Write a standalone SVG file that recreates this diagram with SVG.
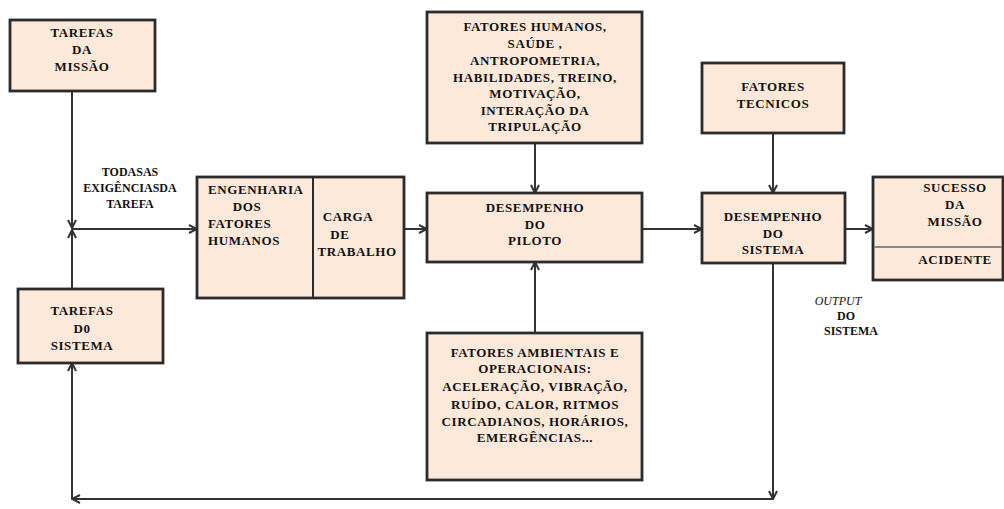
<svg xmlns="http://www.w3.org/2000/svg" width="1004" height="509" viewBox="0 0 1004 509">
<defs>
<marker id="arr" viewBox="0 0 10 10" refX="9" refY="5" markerWidth="10" markerHeight="10" markerUnits="userSpaceOnUse" orient="auto">
<path d="M1,1 L9,5 L1,9" fill="none" stroke="#333" stroke-width="2"/>
</marker>
<style>
.box{fill:#fde9da;stroke:#2b2b2b;stroke-width:2.8}
.t{font-family:"Liberation Serif","Times New Roman",serif;font-weight:bold;font-size:13px;fill:#111;text-anchor:middle;letter-spacing:0.6px}
.l{text-anchor:start}
.c{fill:none;stroke:#333;stroke-width:2;marker-end:url(#arr)}
</style>
</defs>
<rect width="1004" height="509" fill="#fff"/>

<g id="connectors">
<line class="c" x1="72" y1="91" x2="72" y2="228"/>
<line class="c" x1="72" y1="289" x2="72" y2="230"/>
<line class="c" x1="72" y1="229" x2="197" y2="229"/>
<line class="c" x1="404" y1="229" x2="427" y2="229"/>
<line class="c" x1="535" y1="143" x2="535" y2="193"/>
<line class="c" x1="535" y1="333" x2="535" y2="262"/>
<line class="c" x1="642" y1="229" x2="702" y2="229"/>
<line class="c" x1="773" y1="133" x2="773" y2="193"/>
<line class="c" x1="845" y1="229" x2="873" y2="229"/>
<line class="c" x1="773" y1="263" x2="773" y2="499"/>
<line class="c" x1="773" y1="499" x2="72" y2="499"/>
<line class="c" x1="72" y1="499" x2="72" y2="363"/>
</g>

<g id="label-todas">
<text class="t" x="130" y="176" style="font-size:12px;letter-spacing:0">TODASAS</text>
<text class="t" x="130" y="192" style="font-size:12px;letter-spacing:0">EXIGÊNCIASDA</text>
<text class="t" x="130" y="208" style="font-size:12px;letter-spacing:0">TAREFA</text>
</g>

<g id="tarefas-missao">
<rect class="box" x="10" y="20" width="145" height="71"/>
<text class="t" x="82" y="37">TAREFAS</text>
<text class="t" x="82" y="54">DA</text>
<text class="t" x="82" y="71">MISSÃO</text>
</g>

<g id="tarefas-sistema">
<rect class="box" x="18" y="289" width="145" height="74"/>
<text class="t" x="82" y="315">TAREFAS</text>
<text class="t" x="82" y="333">D0</text>
<text class="t" x="82" y="350">SISTEMA</text>
</g>

<g id="engenharia">
<rect class="box" x="197" y="177" width="207" height="121"/>
<line x1="313" y1="177" x2="313" y2="298" stroke="#2b2b2b" stroke-width="2"/>
<text class="t l" x="208" y="194">ENGENHARIA</text>
<text class="t" x="247" y="211">DOS</text>
<text class="t l" x="208" y="228">FATORES</text>
<text class="t l" x="208" y="245">HUMANOS</text>
<text class="t" x="348" y="221">CARGA</text>
<text class="t" x="340" y="239">DE</text>
<text class="t" x="357" y="256">TRABALHO</text>
</g>

<g id="fatores-humanos">
<rect class="box" x="427" y="12" width="215" height="131"/>
<text class="t" x="535" y="31">FATORES HUMANOS,</text>
<text class="t" x="535" y="48">SAÚDE ,</text>
<text class="t" x="535" y="65">ANTROPOMETRIA,</text>
<text class="t" x="535" y="82">HABILIDADES, TREINO,</text>
<text class="t" x="535" y="98">MOTIVAÇÃO,</text>
<text class="t" x="535" y="115">INTERAÇÃO DA</text>
<text class="t" x="535" y="131">TRIPULAÇÃO</text>
</g>

<g id="desempenho-piloto">
<rect class="box" x="427" y="193" width="215" height="69"/>
<text class="t" x="535" y="212">DESEMPENHO</text>
<text class="t" x="535" y="229">DO</text>
<text class="t" x="535" y="245">PILOTO</text>
</g>

<g id="fatores-ambientais">
<rect class="box" x="427" y="333" width="215" height="147"/>
<text class="t" x="535" y="357">FATORES AMBIENTAIS E</text>
<text class="t" x="535" y="373">OPERACIONAIS:</text>
<text class="t" x="535" y="391">ACELERAÇÃO, VIBRAÇÃO,</text>
<text class="t" x="535" y="409">RUÍDO, CALOR, RITMOS</text>
<text class="t" x="535" y="426">CIRCADIANOS, HORÁRIOS,</text>
<text class="t" x="535" y="442">EMERGÊNCIAS...</text>
</g>

<g id="fatores-tecnicos">
<rect class="box" x="702" y="63" width="142" height="70"/>
<text class="t" x="773" y="91">FATORES</text>
<text class="t" x="773" y="108">TECNICOS</text>
</g>

<g id="desempenho-sistema">
<rect class="box" x="702" y="193" width="143" height="70"/>
<text class="t" x="773" y="221">DESEMPENHO</text>
<text class="t" x="773" y="238">DO</text>
<text class="t" x="773" y="254">SISTEMA</text>
</g>

<g id="sucesso">
<rect class="box" x="873" y="177" width="130" height="103"/>
<line x1="874" y1="247" x2="1002" y2="247" stroke="#888" stroke-width="2"/>
<text class="t" x="955" y="192">SUCESSO</text>
<text class="t" x="955" y="209">DA</text>
<text class="t" x="955" y="226">MISSÃO</text>
<text class="t" x="955" y="264">ACIDENTE</text>
</g>

<g id="label-output">
<text class="t" x="838" y="305" style="font-weight:normal;font-style:italic;font-size:12px;letter-spacing:0">OUTPUT</text>
<text class="t" x="846" y="320" style="font-size:12px;letter-spacing:0">DO</text>
<text class="t" x="851" y="335" style="font-size:12px;letter-spacing:0">SISTEMA</text>
</g>
</svg>
